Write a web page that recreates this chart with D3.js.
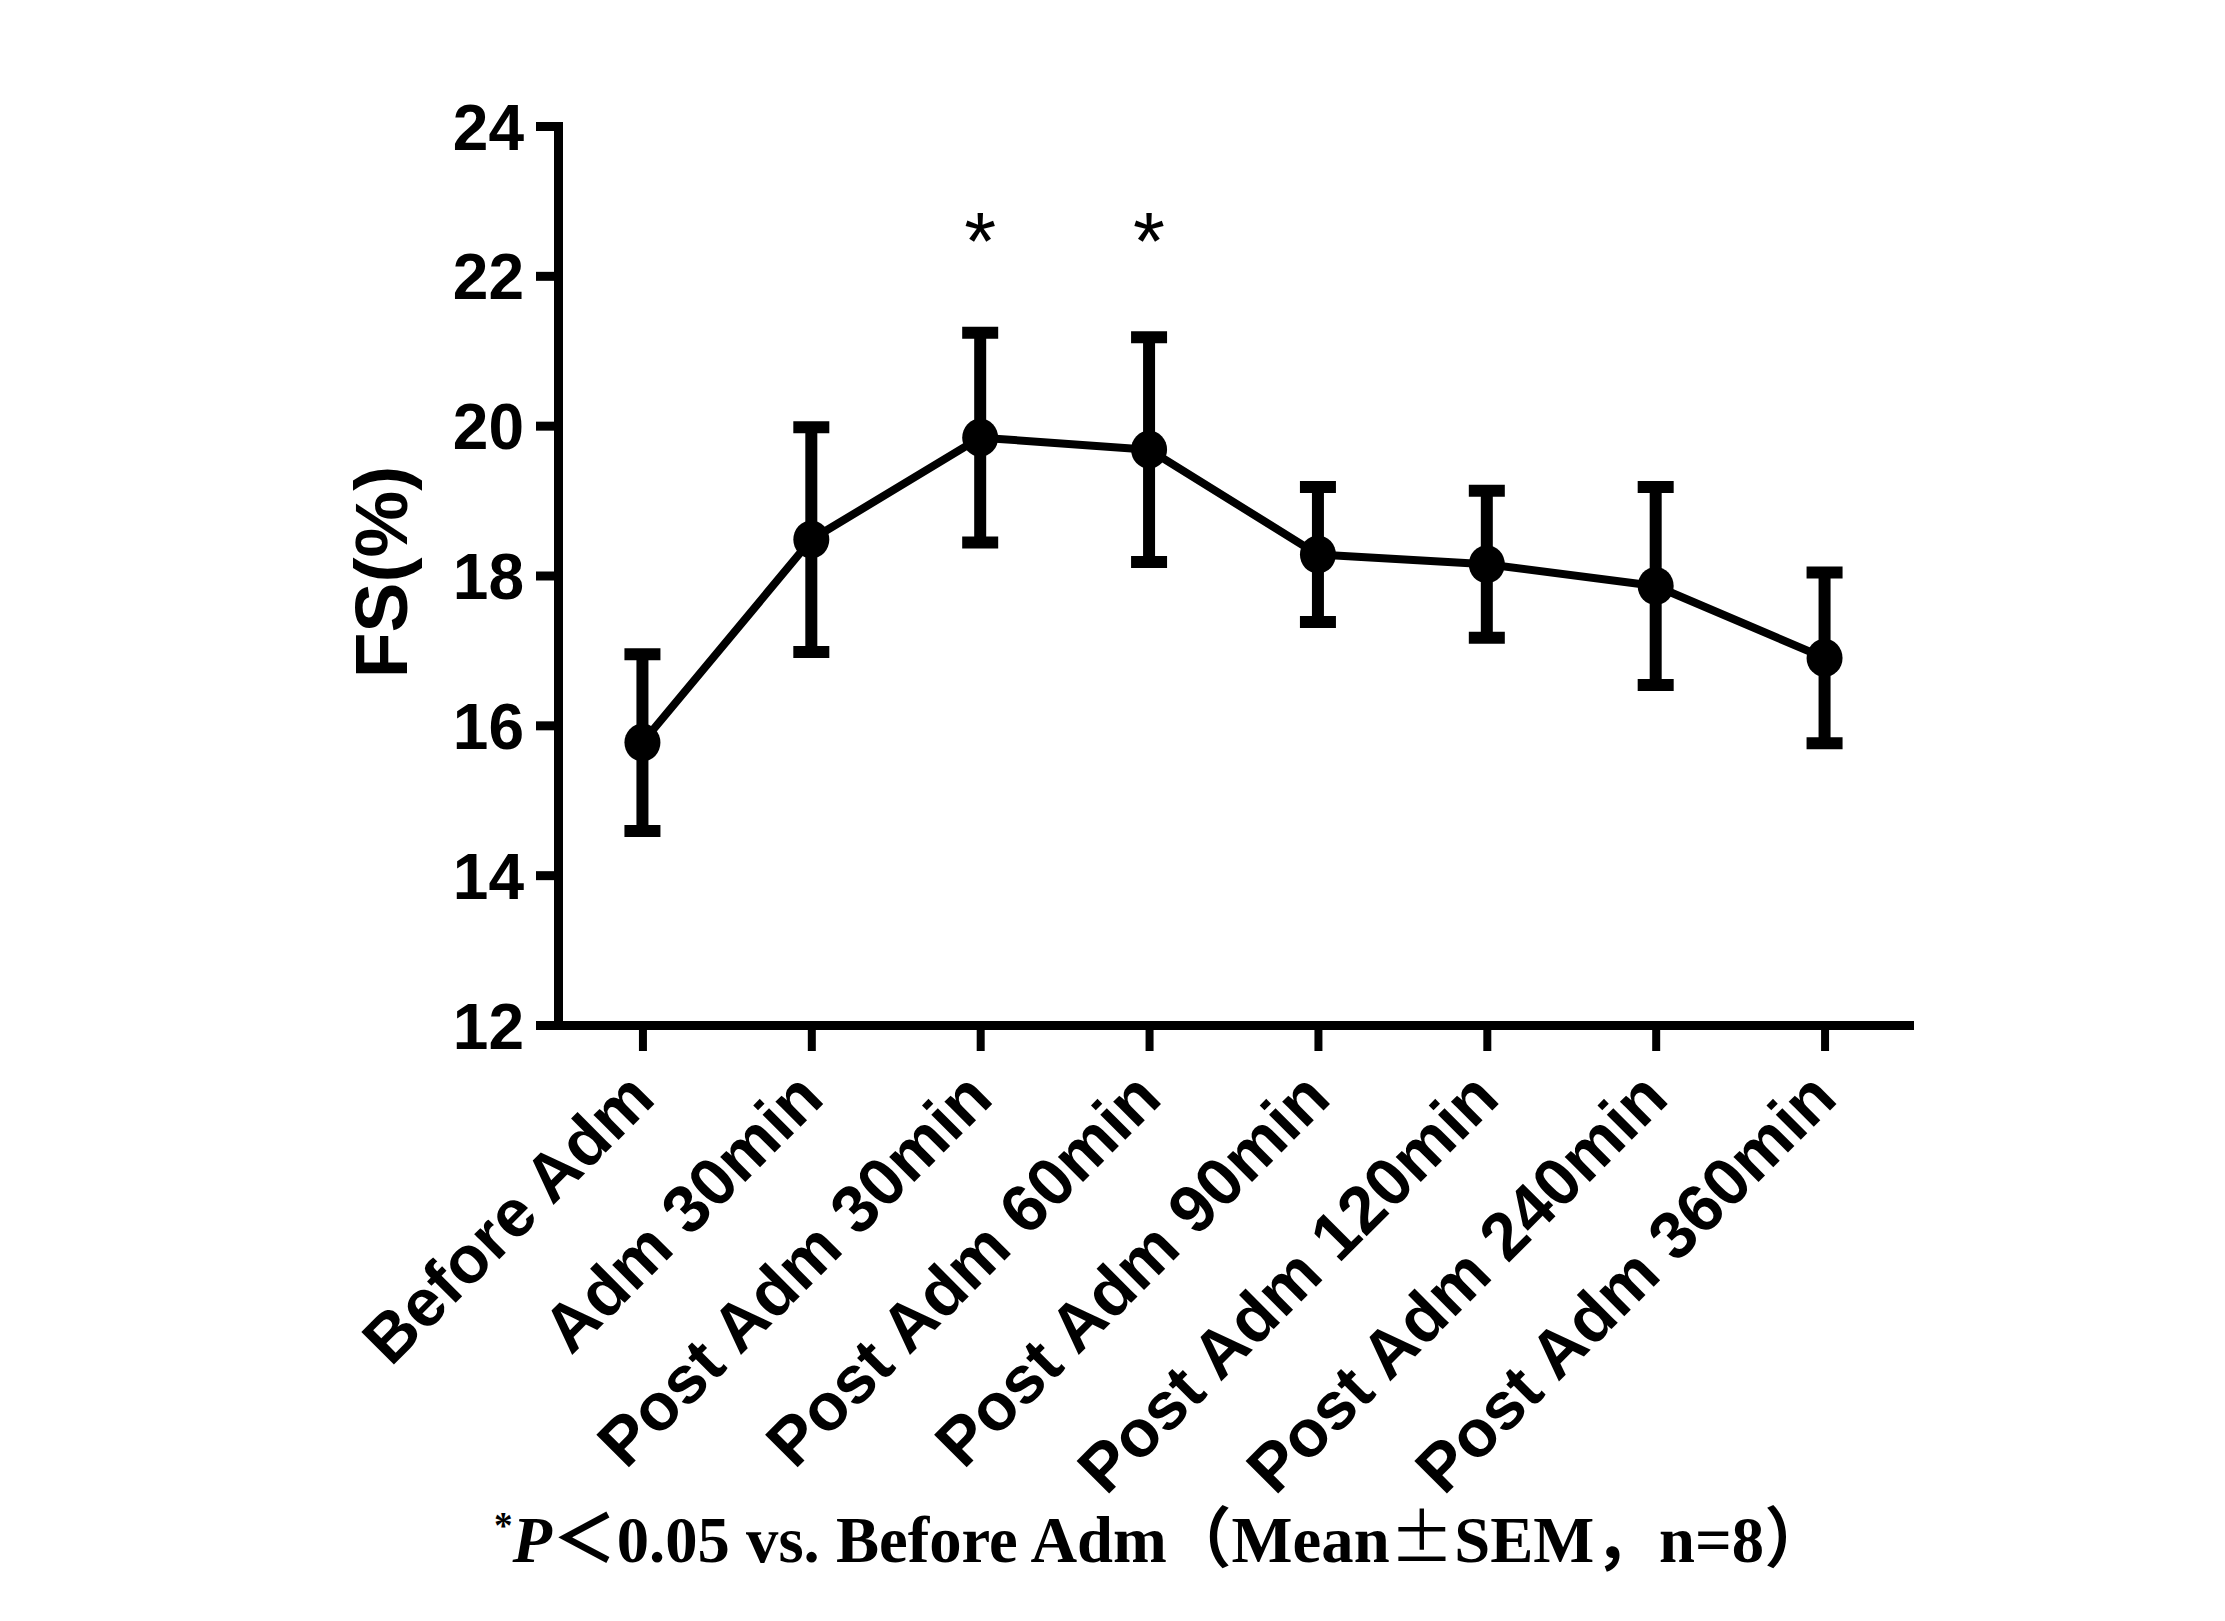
<!DOCTYPE html>
<html>
<head>
<meta charset="utf-8">
<script src="https://cdn.jsdelivr.net/npm/d3@7"></script>
<style>
html,body{margin:0;padding:0;background:#fff;}
svg{display:block;}
</style>
</head>
<body>
<svg id="chart" width="2225" height="1621"></svg>
<script>
// ---- data ----
const categories = ["Before Adm","Adm 30min","Post Adm 30min","Post Adm 60min","Post Adm 90min","Post Adm 120min","Post Adm 240min","Post Adm 360min"];
const meanValues = [15.77, 18.48, 19.84, 19.68, 18.28, 18.15, 17.86, 16.90];
const semValues  = [1.18, 1.50, 1.40, 1.50, 0.90, 0.98, 1.32, 1.14];
const significant = [false, false, true, true, false, false, false, false];
const starLevel = 22.75;
const yTicks = [12,14,16,18,20,22,24];
const yLabel = "FS(%)";

(function(){
// ---- layout ----
const svg = d3.select("#chart");
const plotLeft = 558, plotRight = 1909, plotTop = 126, plotBottom = 1025;

const x = d3.scalePoint().domain(categories).range([plotLeft, plotRight]).padding(0.5);
const y = d3.scaleLinear().domain([12,24]).range([plotBottom, plotTop]);

const data = categories.map((c,i)=>({c, m:meanValues[i], s:semValues[i], sig:significant[i]}));

// y axis
const yAxis = svg.append("g").attr("transform",`translate(${plotLeft},0)`)
  .call(d3.axisLeft(y).tickValues(yTicks).tickSize(22).tickSizeOuter(0).tickPadding(12).tickFormat(d3.format("d")));
yAxis.select(".domain").attr("stroke","#000").attr("stroke-width",9).attr("stroke-linecap","square");
yAxis.selectAll(".tick line").attr("stroke","#000").attr("stroke-width",9);
yAxis.selectAll(".tick text").attr("fill","#000")
  .style("font-family","'Liberation Sans', Arial, sans-serif").style("font-weight","bold").style("font-size","64px")
  .attr("dy","0.36em");

// x axis
const xAxis = svg.append("g").attr("transform",`translate(0,${plotBottom})`)
  .call(d3.axisBottom(x).tickSize(26).tickSizeOuter(0).tickFormat(""));
xAxis.select(".domain").attr("stroke","#000").attr("stroke-width",9).attr("stroke-linecap","square");
xAxis.selectAll(".tick line").attr("stroke","#000").attr("stroke-width",8);

// x labels
svg.append("g").selectAll("text").data(categories).join("text")
  .attr("transform", d=>`translate(${x(d)+15},${plotBottom+76}) rotate(-45)`)
  .attr("text-anchor","end")
  .style("font-family","'Liberation Sans', Arial, sans-serif").style("font-weight","bold").style("font-size","67px")
  .attr("fill","#000")
  .text(d=>d);

// y label
svg.append("text")
  .attr("transform",`translate(407,572) rotate(-90)`)
  .attr("text-anchor","middle")
  .style("font-family","'Liberation Sans', Arial, sans-serif").style("font-weight","bold").style("font-size","75px")
  .attr("fill","#000")
  .text(yLabel);

// line
svg.append("path").datum(data)
  .attr("fill","none").attr("stroke","#000").attr("stroke-width",8).attr("stroke-linejoin","round")
  .attr("d", d3.line().x(d=>x(d.c)).y(d=>y(d.m)));

// error bars
const eb = svg.append("g").selectAll("g").data(data).join("g");
eb.append("line").attr("x1",d=>x(d.c)).attr("x2",d=>x(d.c))
  .attr("y1",d=>y(d.m+d.s)).attr("y2",d=>y(d.m-d.s))
  .attr("stroke","#000").attr("stroke-width",12);
eb.append("line").attr("x1",d=>x(d.c)-18).attr("x2",d=>x(d.c)+18)
  .attr("y1",d=>y(d.m+d.s)).attr("y2",d=>y(d.m+d.s))
  .attr("stroke","#000").attr("stroke-width",12);
eb.append("line").attr("x1",d=>x(d.c)-18).attr("x2",d=>x(d.c)+18)
  .attr("y1",d=>y(d.m-d.s)).attr("y2",d=>y(d.m-d.s))
  .attr("stroke","#000").attr("stroke-width",12);

// points
svg.append("g").selectAll("ellipse").data(data).join("ellipse")
  .attr("cx",d=>x(d.c)).attr("cy",d=>y(d.m)).attr("rx",18).attr("ry",19).attr("fill","#000");

// stars
const starSize = 82;
svg.append("g").selectAll("text").data(data.filter(d=>d.sig)).join("text")
  .attr("x",d=>x(d.c)).attr("y",y(starLevel)+0.6*starSize)
  .attr("text-anchor","middle")
  .style("font-family","'Liberation Sans', Arial, sans-serif").style("font-size",starSize+"px")
  .attr("fill","#000").text("*");

// caption
const cap = svg.append("text")
  .style("font-family","'Liberation Serif','Times New Roman','Noto Sans CJK SC',serif").style("font-weight","bold").style("font-size","66px")
  .attr("fill","#000");
cap.append("tspan").style("font-size","38px").attr("dy","-24").text("*");
cap.append("tspan").style("font-style","italic").attr("dy","24").text("P");
cap.append("tspan").text("＜0.05 vs. Before Adm（Mean");
cap.append("tspan").style("font-family","'Noto Sans CJK SC',sans-serif").style("font-weight","normal").text("±");
cap.append("tspan").text("SEM，n=8）");
const w = cap.node().getBBox().width;
const targetW = 1335, capLeft = 494, baseY = 1562;
const s = targetW / w;
cap.attr("transform",`translate(${capLeft},${baseY}) scale(${s},1)`);
})();
</script>
</body>
</html>
